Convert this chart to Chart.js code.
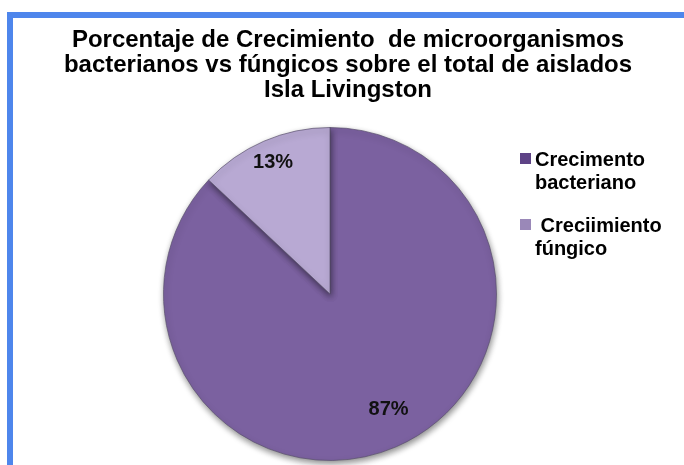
<!DOCTYPE html>
<html>
<head>
<meta charset="utf-8">
<script src="https://cdn.jsdelivr.net/npm/chart.js@4.4.1/dist/chart.umd.min.js"></script>
<style>
  html, body { margin: 0; padding: 0; background: #fff; }
  #wrap { position: relative; width: 684px; height: 465px; overflow: hidden; }
  #frame { position: absolute; left: 7px; top: 12px; right: -10px; bottom: -10px;
           border-left: 6px solid #4e86ec; border-top: 6px solid #4e86ec; }
  #chart { position: absolute; left: 0; top: 0; }
</style>
</head>
<body>
<div id="wrap">
  <div id="frame"></div>
  <canvas id="chart" width="684" height="465"></canvas>
</div>
<script>
// chart data
const titleLines = [
    'Porcentaje de Crecimiento  de microorganismos',
    'bacterianos vs fúngicos sobre el total de aislados',
    'Isla Livingston'
];
const categories = [['Crecimento', 'bacteriano'], [' Creciimiento', 'fúngico']];
const percentages = [87, 13];
const sliceColors = ['#7b61a0', '#b8a9d3'];
const markerColors = ['#5e4386', '#9a88b8'];

const FONT = '"Liberation Sans", Arial, sans-serif';

// title drawn centred over the frame
const titlePlugin = {
    id: 'titleLines',
    afterDraw(chart) {
        const ctx = chart.ctx;
        ctx.save();
        ctx.fillStyle = '#000';
        ctx.font = 'bold 24px ' + FONT;
        ctx.textAlign = 'center';
        ctx.textBaseline = 'alphabetic';
        titleLines.forEach((line, i) => {
            ctx.fillText(line, 348, 47 + i * 25, 578);
        });
        ctx.restore();
    }
};

// legend on the right, two lines per entry
const legendPlugin = {
    id: 'sideLegend',
    afterDraw(chart) {
        const ctx = chart.ctx;
        ctx.save();
        ctx.font = 'bold 20px ' + FONT;
        ctx.textBaseline = 'alphabetic';
        chart.data.labels.forEach((label, i) => {
            const top = 166 + i * 66;
            ctx.fillStyle = markerColors[i];
            ctx.fillRect(520, top - 13, 11, 11);
            ctx.fillStyle = '#000';
            label.forEach((line, j) => {
                ctx.fillText(line, 535, top + j * 23);
            });
        });
        ctx.restore();
    }
};

// shadow under slices + percentage labels
const labelRadius = [0.78, 0.86];
const sliceDecor = {
    id: 'sliceDecor',
    beforeDatasetsDraw(chart) {
        const ctx = chart.ctx;
        ctx.save();
        ctx.shadowColor = 'rgba(0,0,0,0.45)';
        ctx.shadowBlur = 6;
        ctx.shadowOffsetX = 1;
        ctx.shadowOffsetY = 3;
    },
    afterDatasetsDraw(chart) {
        const ctx = chart.ctx;
        ctx.restore();
        ctx.save();
        ctx.font = 'bold 20px ' + FONT;
        ctx.fillStyle = '#111';
        ctx.textAlign = 'center';
        ctx.textBaseline = 'middle';
        const meta = chart.getDatasetMeta(0);
        meta.data.forEach((arc, i) => {
            const p = arc.getProps(['x', 'y', 'startAngle', 'endAngle', 'outerRadius'], true);
            const mid = (p.startAngle + p.endAngle) / 2 - (i === 0 ? 0.06 : 0);
            const r = p.outerRadius * labelRadius[i];
            ctx.fillText(chart.data.datasets[0].data[i] + '%', p.x + Math.cos(mid) * r, p.y + Math.sin(mid) * r);
        });
        ctx.restore();
    }
};

const ctx = document.getElementById('chart').getContext('2d');
const pieChart = new Chart(ctx, {
    type: 'pie',
    data: {
        labels: categories,
        datasets: [{
            data: percentages,
            backgroundColor: sliceColors,
            borderColor: 'rgba(90,80,110,0.7)',
            borderWidth: 1
        }]
    },
    options: {
        responsive: false,
        animation: false,
        layout: {
            padding: { left: 163, right: 187, top: 127, bottom: 4 }
        },
        plugins: {
            legend: { display: false },
            title: { display: false },
            tooltip: { enabled: true }
        }
    },
    plugins: [sliceDecor, titlePlugin, legendPlugin]
});
</script>
</body>
</html>
